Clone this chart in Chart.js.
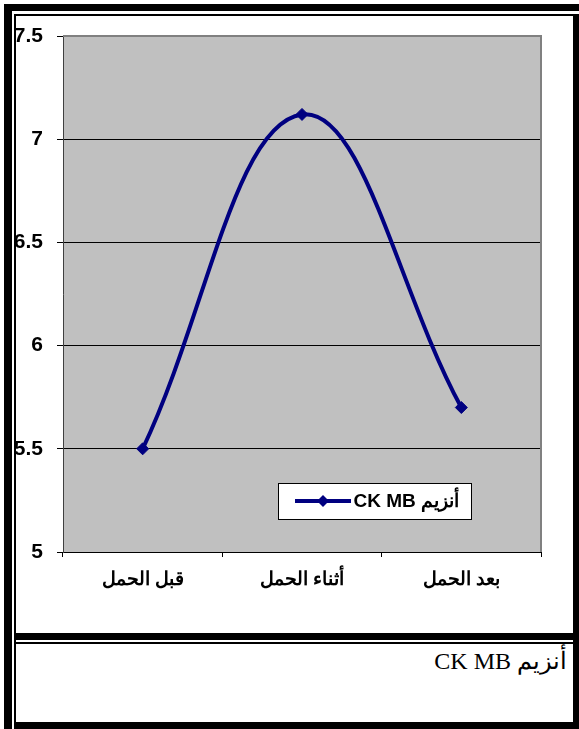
<!DOCTYPE html>
<html><head><meta charset="utf-8">
<script src="https://cdn.jsdelivr.net/npm/chart.js@4/dist/chart.umd.min.js"></script>
<style>
html,body{margin:0;padding:0;background:#fff;}
body{width:579px;height:729px;position:relative;overflow:hidden;}
#wrap{position:absolute;left:0;top:0;width:579px;height:640px;}
.b{position:absolute;background:#000;z-index:5;}
#cap{position:absolute;right:12px;top:649px;font-family:'Liberation Serif','Times New Roman',serif;font-size:24px;line-height:24px;white-space:nowrap;color:#000;}
</style></head><body>
<div id="wrap"><canvas id="c" width="579" height="640"></canvas></div>
<div id="cap" dir="rtl"></div>
<div class="b" style="left:4px;top:4px;width:8px;height:725px"></div>
<div class="b" style="left:14px;top:14px;width:2px;height:715px"></div>
<div class="b" style="left:4px;top:4px;width:575px;height:7px"></div>
<div class="b" style="left:14px;top:14px;width:565px;height:2px"></div>
<div class="b" style="left:573px;top:14px;width:6px;height:715px"></div>
<div class="b" style="left:15px;top:633px;width:558px;height:7px"></div>
<div class="b" style="left:15px;top:642px;width:558px;height:2px"></div>
<div class="b" style="left:14px;top:722px;width:565px;height:7px"></div>
<script>
const categories = ['قبل الحمل', 'أثناء الحمل', 'بعد الحمل'];
const seriesLabel = 'أنزيم CK MB';
const seriesValues = [5.5, 7.12, 5.7];
const yMin = 5, yMax = 7.5, yStep = 0.5;
const captionText = 'أنزيم CK MB';

document.getElementById('cap').textContent = captionText;

const NAVY = '#000080';

const plotBg = {
  id: 'plotBg',
  beforeDraw(chart) {
    const {ctx, chartArea: a} = chart;
    ctx.save();
    ctx.fillStyle = '#C0C0C0';
    ctx.fillRect(a.left, a.top, a.right - a.left, a.bottom - a.top);
    ctx.restore();
  },
  beforeDatasetsDraw(chart) {
    const {ctx, chartArea: a} = chart;
    ctx.save();
    ctx.strokeStyle = '#808080';
    ctx.lineWidth = 2;
    ctx.beginPath();
    ctx.moveTo(a.left, a.top);
    ctx.lineTo(a.right, a.top);
    ctx.lineTo(a.right, a.bottom);
    ctx.stroke();
    ctx.restore();
  }
};

const boxLegend = {
  id: 'boxLegend',
  afterDraw(chart) {
    const {ctx, chartArea: a} = chart;
    const w = a.right - a.left, h = a.bottom - a.top;
    const x0 = a.left + w * 0.4498, x1 = a.left + w * 0.8536;
    const y0 = a.top + h * 0.8663, y1 = a.top + h * 0.9360;
    const ds = chart.data.datasets[0];
    ctx.save();
    ctx.fillStyle = '#fff';
    ctx.fillRect(x0, y0, x1 - x0, y1 - y0);
    ctx.strokeStyle = '#000';
    ctx.lineWidth = 1;
    ctx.strokeRect(Math.round(x0) + 0.5, Math.round(y0) + 0.5, Math.round(x1 - x0), Math.round(y1 - y0));
    const cy = (y0 + y1) / 2;
    ctx.strokeStyle = ds.borderColor;
    ctx.lineWidth = 4;
    ctx.beginPath();
    ctx.moveTo(x0 + 17, cy);
    ctx.lineTo(x0 + 73, cy);
    ctx.stroke();
    const mx = x0 + 45, r = 6;
    ctx.fillStyle = ds.pointBackgroundColor;
    ctx.beginPath();
    ctx.moveTo(mx, cy - r); ctx.lineTo(mx + r, cy); ctx.lineTo(mx, cy + r); ctx.lineTo(mx - r, cy); ctx.closePath();
    ctx.fill();
    ctx.fillStyle = '#000';
    ctx.font = 'bold 19px "Liberation Sans", Arial, sans-serif';
    ctx.direction = 'rtl';
    ctx.textAlign = 'right';
    ctx.textBaseline = 'middle';
    ctx.fillText(ds.label, x1 - 12, cy + 1);
    ctx.restore();
  }
};

new Chart(document.getElementById('c'), {
  type: 'line',
  data: {
    labels: categories,
    datasets: [{
      label: seriesLabel,
      data: seriesValues,
      borderColor: NAVY,
      backgroundColor: NAVY,
      pointBackgroundColor: NAVY,
      pointBorderColor: NAVY,
      borderWidth: 4,
      tension: 0.4,
      pointStyle: 'rectRot',
      pointRadius: 6,
      pointBorderWidth: 1,
      fill: false
    }]
  },
  options: {
    responsive: false,
    animation: false,
    devicePixelRatio: 1,
    layout: {padding: {top: 36, left: 0, right: 38, bottom: 48}},
    plugins: {legend: {display: false}, tooltip: {enabled: false}, title: {display: false}},
    scales: {
      x: {
        type: 'category',
        offset: true,
        afterFit(s) { s.height = 40; },
        grid: {offset: true, drawOnChartArea: false, color: '#000', tickColor: '#000', tickLength: 5, lineWidth: 1},
        border: {display: true, color: '#000', width: 1},
        ticks: {color: '#000', padding: 11, maxRotation: 0, autoSkip: false,
          font: {family: '"Liberation Sans", Arial, sans-serif', size: 19, weight: 'bold'}}
      },
      y: {
        min: yMin, max: yMax,
        afterFit(s) { s.width = 63; },
        grid: {
          color: (c) => (c.tick && c.tick.value === yMax) ? 'rgba(0,0,0,0)' : '#000',
          tickColor: '#000', tickLength: 6, lineWidth: 1
        },
        border: {display: true, color: '#404040', width: 1},
        ticks: {stepSize: yStep, color: '#000', padding: 14,
          callback: (v) => String(Math.round(v * 100) / 100),
          font: {family: '"Liberation Sans", Arial, sans-serif', size: 21, weight: 'bold'}}
      }
    }
  },
  plugins: [plotBg, boxLegend]
});
</script>
</body></html>
